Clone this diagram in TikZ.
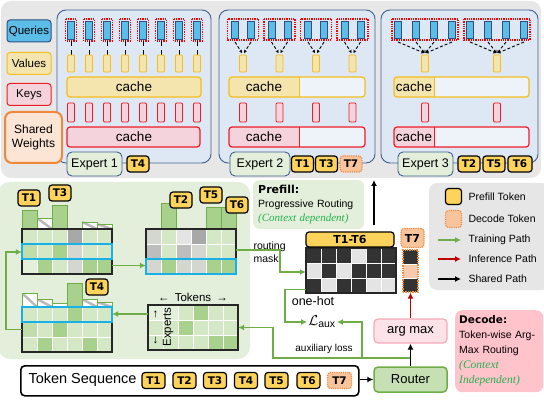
\documentclass[tikz,border=0pt]{standalone}
\usepackage{fontspec}
\setmainfont{Liberation Sans}
\newfontfamily\djv{DejaVu Sans}
\newfontfamily\tms{Liberation Serif}
\usetikzlibrary{arrows.meta,positioning}

\definecolor{panelgray}{HTML}{E7E7E7}
\definecolor{expblue}{HTML}{DEE8F4}
\definecolor{bordblue}{HTML}{41608F}
\definecolor{qblue}{HTML}{5BBDE8}
\definecolor{qborder}{HTML}{2F4F80}
\definecolor{valfill}{HTML}{F4E4AE}
\definecolor{valedge}{HTML}{F5BE1B}
\definecolor{keyfill}{HTML}{F5D3DC}
\definecolor{keyedge}{HTML}{EE1C25}
\definecolor{cacheempty}{HTML}{EEF3FA}
\definecolor{shfill}{HTML}{FDE5D6}
\definecolor{shedge}{HTML}{F0883C}
\definecolor{lblgreen}{HTML}{E3EFDB}
\definecolor{tagyel}{HTML}{FDD35C}
\definecolor{decfill}{HTML}{F8C49C}
\definecolor{decedge}{HTML}{EE8A3E}
\definecolor{gpanel}{HTML}{E3EFDA}
\definecolor{trgreen}{HTML}{70AD47}
\definecolor{lgc}{HTML}{D4E8C6}
\definecolor{mgc}{HTML}{A9D18E}
\definecolor{pgc}{HTML}{C0DDAB}
\definecolor{vlc}{HTML}{E4F0DC}
\definecolor{dgr}{HTML}{A8A8A8}
\definecolor{mgr}{HTML}{BDBDBD}
\definecolor{lgr}{HTML}{D3D7CF}
\definecolor{hcyan}{HTML}{19B0E6}
\definecolor{ohdark}{HTML}{333333}
\definecolor{ohlight}{HTML}{E4E4E4}
\definecolor{ohorange}{HTML}{F8CBAD}
\definecolor{itgreen}{HTML}{22B14C}
\definecolor{decpink}{HTML}{FFC3CC}
\definecolor{amfill}{HTML}{FDE3E8}
\definecolor{amedge}{HTML}{F6A9B8}
\definecolor{rtfill}{HTML}{C6E0B4}
\definecolor{infred}{HTML}{C00000}
\definecolor{legray}{HTML}{E6E6E6}

\newcommand\cellrow[3]{\foreach \cc [count=\ii from 0] in {#3} {\fill[\cc] ({#1+15*\ii},#2) rectangle ++(15,15);}}
\newcommand\cellgrid[2]{%
  \foreach \ii in {1,...,5} {\draw[white,line width=1pt] ({#1+15*\ii},#2) -- ++(0,45);}
  \foreach \ii in {1,2} {\draw[white,line width=1pt] (#1,{#2+15*\ii}) -- ++(90,0);}
  \draw[black!85,line width=1.2pt] (#1,#2) rectangle ++(90,45);}
\newcommand\cachebar[6]{%
  \begin{scope}
  \clip[rounded corners=3pt] (#1,#2) rectangle (#3,#4);
  \fill[cacheempty] (#1,#2) rectangle (#3,#4);
  \fill[#6fill] (#1,#2) rectangle (#5,#4);
  \draw[#6edge,line width=1pt] (#5,#2) -- (#5,#4);
  \end{scope}
  \draw[#6edge,line width=1.2pt,rounded corners=3pt] (#1,#2) rectangle (#3,#4);}

\begin{document}
\begin{tikzpicture}[x=1pt,y=-1pt,
  expbox/.style={draw=bordblue,fill=expblue,line width=0.9pt,rounded corners=9pt,minimum width=#1,minimum height=153pt,inner sep=0pt},
  explbl/.style={draw=bordblue,fill=lblgreen,line width=0.9pt,rounded corners=5pt,minimum width=#1,minimum height=24pt,inner sep=0pt,font=\fontsize{12.5}{12.5}\selectfont},
  qry/.style={draw=qborder,fill=qblue,line width=0.6pt},
  qdots/.style={draw=red,densely dotted,line width=1.3pt},
  valbar/.style={draw=valedge,fill=valfill,line width=0.8pt,rounded corners=1pt},
  keybar/.style={draw=keyedge,fill=keyfill,line width=0.8pt,rounded corners=1pt},
  tag/.style={draw=black,fill=tagyel,line width=1.2pt,rounded corners=3pt,minimum width=22pt,minimum height=16pt,inner sep=0pt,font=\djv\bfseries\fontsize{10.5}{10.5}\selectfont},
  dtag/.style={tag,draw=decedge,fill=decfill,densely dotted},
  legq/.style={rounded corners=3pt,line width=1pt,minimum width=44pt,minimum height=22pt,inner sep=0pt,font=\fontsize{11.5}{11.5}\selectfont},
  gbar/.style={draw=trgreen,fill=mgc,line width=0.9pt},
  hbar/.style={draw=trgreen,fill=white,line width=0.9pt,path picture={\draw[gray!55,line width=2.4pt] (path picture bounding box.north west) -- (path picture bounding box.south east);}},
  matnode/.style={minimum width=90pt,minimum height=45pt,inner sep=0pt},
  tarrow/.style={draw=trgreen,line width=1.5pt,-{Latex[length=6pt,width=6pt]}},
  iarrow/.style={draw=infred,line width=1.5pt,-{Latex[length=6pt,width=6pt]}},
  sarrow/.style={draw=black,line width=1.5pt,-{Latex[length=6pt,width=6pt]}},
  smalltxt/.style={font=\fontsize{10.5}{12}\selectfont}]

\useasboundingbox (0,0) rectangle (544,401);
\fill[panelgray,rounded corners=10pt] (1,1) rectangle (541,178);
\fill[gpanel,rounded corners=12pt] (-2,182) rectangle (250,359);
\fill[legray,rounded corners=8pt] (429,183) rectangle (550,290);

\node (qLeg) at (29,31)[legq,draw=qborder,fill=qblue] {Queries};
\node (vLeg) at (29,63.5)[legq,draw=valedge,fill=valfill] {Values};
\node (kLeg) at (29,94.5)[legq,draw=keyedge,fill=keyfill] {Keys};

\node (eOne) at (134,86.5)[expbox=154pt] {};
\node (eTwo) at (297,86.5)[expbox=156pt] {};
\node (eThree) at (459.5,86.5)[expbox=157pt] {};

\node (shLeg) at (33.5,137.5)[draw=shedge,fill=shfill,line width=2pt,rounded corners=7pt,minimum width=57pt,minimum height=51pt,align=center,font=\fontsize{12}{14.5}\selectfont] {Shared\\Weights};

\foreach \i in {0,...,7} {
  \pgfmathsetmacro\xc{71+18*\i}
  \draw[qdots] (\xc-5.5,19) rectangle (\xc+5.5,41);
  \draw[qry] (\xc-3.5,21) rectangle (\xc+3.5,39);
  \draw[black,line width=1pt,dash pattern=on 5pt off 4pt] (\xc,41) -- (\xc,55);
  \draw[valbar] (\xc-3.5,55) rectangle (\xc+3.5,72);
  \draw[keybar] (\xc-3.5,103) rectangle (\xc+3.5,122);
}
\cachebar{67}{77}{201}{97}{201}{val}
\cachebar{67}{127}{200}{147}{200}{key}
\node (cvOne) at (134,87)[font=\fontsize{13.5}{13.5}\selectfont] {cache};
\node (ckOne) at (134,137)[font=\fontsize{13.5}{13.5}\selectfont] {cache};

\foreach \j in {0,...,3} {
  \pgfmathsetmacro\gc{243+36.5*\j}
  \draw[qdots] (\gc-15.5,19) rectangle (\gc+15.5,40);
  \foreach \d in {-8,8} {
    \draw[qry] (\gc+\d-3.5,21) rectangle (\gc+\d+3.5,38);
    \draw[black,line width=0.9pt,densely dashed,-{Stealth[length=3pt,width=3.5pt]}] (\gc+\d,42) -- (\gc+\d/8,53);
  }
  \draw[valbar] (\gc-3.5,55) rectangle (\gc+3.5,72);
  \draw[keybar] (\gc-3.5,103) rectangle (\gc+3.5,122);
}
\cachebar{229}{77}{365}{97}{299}{val}
\cachebar{229}{127}{365}{147}{299}{key}
\node (cvTwo) at (264,87)[font=\fontsize{13.5}{13.5}\selectfont] {cache};
\node (ckTwo) at (264,137)[font=\fontsize{13.5}{13.5}\selectfont] {cache};

\foreach \gc in {425,497} {
  \draw[qdots] (\gc-33,19) rectangle (\gc+33,40);
  \foreach \d in {-27,-9,9,27} {
    \draw[qry] (\gc+\d-3.5,21) rectangle (\gc+\d+3.5,38);
    \draw[black,line width=0.9pt,densely dashed,-{Stealth[length=3pt,width=3.5pt]}] (\gc+\d,42) -- (\gc+\d/27,53);
  }
  \draw[valbar] (\gc-3.5,55) rectangle (\gc+3.5,72);
  \draw[keybar] (\gc-3.5,103) rectangle (\gc+3.5,122);
}
\cachebar{394}{77}{529}{97}{434}{val}
\cachebar{394}{127}{529}{147}{434}{key}
\node (cvThree) at (414,87)[font=\fontsize{13.5}{13.5}\selectfont] {cache};
\node (ckThree) at (414,137)[font=\fontsize{13.5}{13.5}\selectfont] {cache};

\node (lOne) at (94.5,164)[explbl=55pt] {Expert 1};
\node (tFourE) at (138,164)[tag] {T4};
\node (lTwo) at (260,164)[explbl=60pt] {Expert 2};
\node (tOneE) at (302.5,164)[tag] {T1};
\node (tThreeE) at (326.5,164)[tag] {T3};
\node (tSevenE) at (351,164)[dtag] {T7};
\node (lThree) at (425.5,164)[explbl=55pt] {Expert 3};
\node (tTwoE) at (469,164)[tag] {T2};
\node (tFiveE) at (494,164)[tag] {T5};
\node (tSixE) at (520,164)[tag,minimum width=24pt] {T6};

\draw[gbar] (22,210) rectangle (37,229);
\draw[hbar] (37,218) rectangle (52,229);
\draw[gbar] (52,205) rectangle (67,229);
\draw[hbar] (82,222) rectangle (97,229);
\draw[hbar] (97,224) rectangle (112,229);
\cellrow{22}{229}{lgc,lgc,lgc,dgr,lgc,lgc}
\cellrow{22}{244}{pgc,lgc,mgc,lgr,lgc,lgc}
\cellrow{22}{259}{vlc,mgc,lgc,lgr,mgc,mgc}
\cellgrid{22}{229}
\draw[hcyan,line width=1.6pt] (22,244) rectangle (112,259);
\node (mOne) at (67,251.5)[matnode] {};
\node (tOneM) at (29,198)[tag] {T1};
\node (tThreeM) at (60,193)[tag] {T3};

\draw[gbar] (161,203) rectangle (176,229);
\draw[gbar] (206,207) rectangle (221,229);
\draw[gbar] (221,207) rectangle (236,229);
\cellrow{146}{229}{lgr,lgc,ohlight,dgr,lgc,lgc}
\cellrow{146}{244}{mgr,lgc,mgr,lgr,lgc,lgc}
\cellrow{146}{259}{lgr,mgc,lgr,lgr,mgc,mgc}
\cellgrid{146}{229}
\draw[hcyan,line width=1.6pt] (146,259) rectangle (236,274);
\node (mTwo) at (191,251.5)[matnode] {};
\node (tTwoM) at (181,200)[tag] {T2};
\node (tFiveM) at (211,195)[tag] {T5};
\node (tSixM) at (237,205)[tag] {T6};

\draw[hbar] (22,293) rectangle (37,307);
\draw[hbar] (37,299) rectangle (52,307);
\draw[gbar,fill=white] (52,303) rectangle (67,307);
\draw[gbar] (67,283) rectangle (82,307);
\draw[hbar] (82,299) rectangle (97,307);
\draw[hbar] (97,302) rectangle (112,307);
\cellrow{22}{307}{lgc,lgc,lgc,mgc,lgc,lgc}
\cellrow{22}{322}{pgc,lgc,mgc,lgc,lgc,lgc}
\cellrow{22}{337}{lgc,mgc,lgc,lgc,mgc,lgc}
\cellgrid{22}{307}
\draw[hcyan,line width=1.6pt] (22,307) rectangle (112,322);
\node (mThree) at (67,329.5)[matnode] {};
\node (tFourM) at (97,287)[tag] {T4};

\cellrow{148}{305}{vlc,vlc,lgc,mgc,lgc,lgc}
\cellrow{148}{320}{lgc,lgc,mgc,lgc,lgc,lgc}
\cellrow{148}{335}{lgc,lgc,lgc,lgc,mgc,mgc}
\cellgrid{148}{305}
\node (mFour) at (193,327.5)[matnode] {};
\node (tokLbl) at (193,297)[font=\fontsize{11.5}{11.5}\selectfont] {← \,Tokens\, →};
\node (upArr) at (155.5,314)[font=\fontsize{11.5}{11.5}\selectfont] {↑};
\node (dnArr) at (155.5,340)[font=\fontsize{11.5}{11.5}\selectfont] {↓};
\node (expLbl) at (168,327)[rotate=90,font=\fontsize{11.5}{11.5}\selectfont] {Experts};

\cellrow{306}{248}{ohdark,ohdark,ohdark,ohlight,ohdark,ohdark}
\cellrow{306}{263}{ohlight,ohdark,ohlight,ohdark,ohdark,ohdark}
\cellrow{306}{278}{ohdark,ohlight,ohdark,ohdark,ohlight,ohlight}
\cellgrid{306}{248}
\node (oneHot) at (351,270.5)[matnode] {};
\node (tsix) at (350,239.5)[tag,minimum width=88pt,minimum height=15pt,font=\djv\bfseries\fontsize{11}{11}\selectfont] {T1-T6};

\fill[ohdark] (403,250) rectangle (418,264);
\fill[ohorange] (403,264) rectangle (418,278);
\fill[ohdark] (403,278) rectangle (418,292);
\draw[white,line width=1pt] (403,264) -- (418,264) (403,278) -- (418,278);
\node (sevenCol) at (410.5,271)[draw=decedge,densely dotted,line width=1.3pt,minimum width=15pt,minimum height=42pt,inner sep=0pt] {};
\node (tSevenM) at (412.5,238)[dtag,minimum width=23pt,minimum height=19pt,font=\djv\bfseries\fontsize{11}{11}\selectfont] {T7};

\node (prefill) at (253,180)[anchor=north west,fill=gpanel,rounded corners=6pt,minimum width=111pt,minimum height=48pt,text width=101pt,inner sep=5pt,align=left,font=\fontsize{10.5}{14}\selectfont] {{\djv\bfseries\fontsize{11}{14}\selectfont Prefill:}\\Progressive Routing\\{\tms\itshape\fontsize{11}{14}\selectfont\color{itgreen}(Context dependent)}};

\node (routMask) at (250,252)[anchor=west,align=left,font=\fontsize{10.5}{13}\selectfont] {routing\\mask};
\node (oneHotLbl) at (313,301)[font=\fontsize{12.5}{12.5}\selectfont] {one-hot};
\node (laux) at (322,322)[font=\fontsize{15}{15}\selectfont,inner sep=1pt] {$\mathcal{L}_{\mathrm{aux}}$};
\node (auxLoss) at (324,349)[font=\fontsize{10}{10}\selectfont] {auxiliary loss};

\node (argmax) at (410.5,331)[draw=amedge,fill=amfill,line width=1.2pt,rounded corners=4pt,minimum width=73pt,minimum height=24pt,font=\fontsize{13}{13}\selectfont] {arg max};
\node (router) at (410.5,379.5)[draw=trgreen,fill=rtfill,line width=1.5pt,rounded corners=4pt,minimum width=73pt,minimum height=25pt,font=\fontsize{13}{13}\selectfont] {Router};

\node (decode) at (455,310)[anchor=north west,fill=decpink,rounded corners=7pt,minimum width=87pt,minimum height=82pt,text width=80pt,inner sep=4pt,align=left,font=\fontsize{10.5}{15}\selectfont] {{\djv\bfseries\fontsize{10.5}{15}\selectfont Decode:}\\Token-wise Arg-\\Max Routing\\{\tms\itshape\fontsize{11.5}{15}\selectfont\color{itgreen}(Context\\Independent)}};

\node (tokseq) at (20,365)[anchor=north west,draw=black,fill=white,line width=1.6pt,rounded corners=4pt,minimum width=338pt,minimum height=30pt] {};
\node (seqTxt) at (25,380)[anchor=west,font=\fontsize{14.5}{14.5}\selectfont] {Token Sequence};
\node (sOne) at (153.5,380.5)[tag,minimum width=23pt] {T1};
\node (sTwo) at (184.5,380.5)[tag,minimum width=23pt] {T2};
\node (sThree) at (215,380.5)[tag,minimum width=23pt] {T3};
\node (sFour) at (246,380.5)[tag,minimum width=23pt] {T4};
\node (sFive) at (276.5,380.5)[tag,minimum width=23pt] {T5};
\node (sSix) at (308.5,380.5)[tag,minimum width=23pt] {T6};
\node (sSeven) at (339.5,380.5)[dtag,minimum width=24pt] {T7};

\node (lgPre) at (453.5,196.5)[tag,minimum width=16pt,minimum height=16pt] {};
\node (lgPreT) at (465,197)[anchor=west,smalltxt] {Prefill Token};
\node (lgDec) at (453.5,219)[dtag,minimum width=16pt,minimum height=17pt] {};
\node (lgDecT) at (465,219)[anchor=west,smalltxt] {Decode Token};
\coordinate (lgTa) at (438,240);
\coordinate (lgTb) at (461,240);
\node (lgTrT) at (465,240)[anchor=west,smalltxt] {Training Path};
\coordinate (lgIa) at (438,259);
\coordinate (lgIb) at (461,259);
\node (lgInT) at (465,259)[anchor=west,smalltxt] {Inference Path};
\coordinate (lgSa) at (438,279);
\coordinate (lgSb) at (461,279);
\node (lgShT) at (465,279)[anchor=west,smalltxt] {Shared Path};
\draw[tarrow] (lgTa) -- (lgTb);
\draw[iarrow] (lgIa) -- (lgIb);
\draw[sarrow] (lgSa) -- (lgSb);

\coordinate (split) at (410.5,358);
\coordinate (lbranch) at (362,358);
\coordinate (upEnd) at (374,180);

\draw[tarrow] ([yshift=-14pt]mOne.east) -- ([yshift=-14pt]mTwo.west);
\draw[tarrow] ([yshift=1.5pt]mTwo.east) -- ++(44,0) |- ([yshift=-1.5pt]oneHot.west);
\draw[tarrow] ([yshift=13.5pt]mFour.west) coordinate (aFour) -- (aFour -| mThree.east);
\draw[tarrow] (mThree.west) -- ++(-16,0) |- ([yshift=-0.5pt]mOne.west);
\draw[tarrow] (split) -| ([xshift=35pt]mFour.east) -- (mFour.east);
\draw[tarrow] (lbranch) |- (laux.east);
\draw[tarrow] ([yshift=-19pt]oneHot.west) -- ++(-21,0) |- (laux.west);
\draw[sarrow] ([yshift=6pt]tsix.north -| upEnd) -- (upEnd);
\draw[sarrow] (router) -- (argmax);
\draw[iarrow] (argmax) -- (sevenCol);
\draw[sarrow] (tokseq.east |- router.west) -- (router.west);
\end{tikzpicture}
\end{document}
